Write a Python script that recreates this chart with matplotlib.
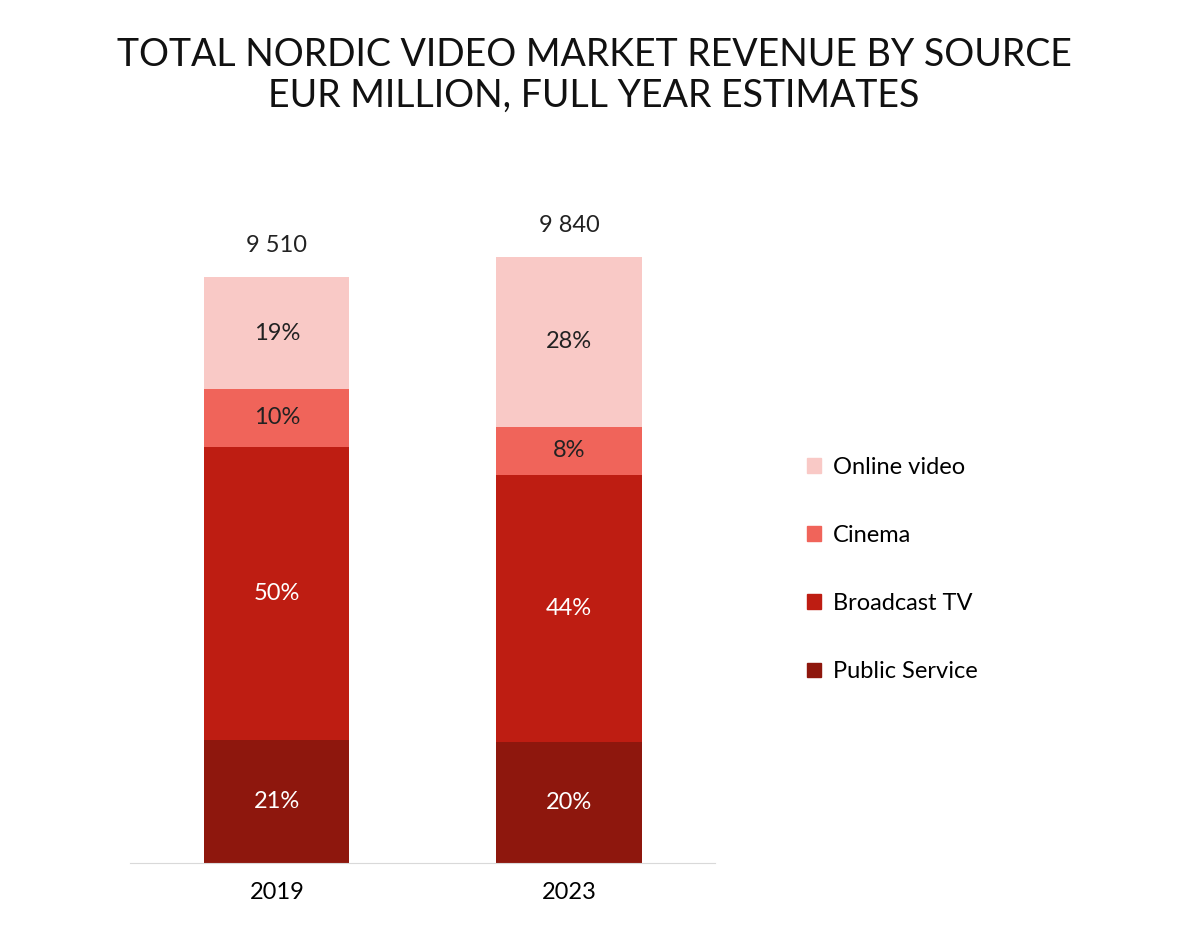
import matplotlib
matplotlib.use("Agg")
import matplotlib.pyplot as plt
from matplotlib.patches import Patch

years = ["2019", "2023"]
totals = [9510, 9840]
series = ["Public Service", "Broadcast TV", "Cinema", "Online video"]
pcts = {
    "Public Service": [21, 20],
    "Broadcast TV": [50, 44],
    "Cinema": [10, 8],
    "Online video": [19, 28],
}
colors = {"Public Service": "#8E170D", "Broadcast TV": "#BE1D12",
          "Cinema": "#F0645A", "Online video": "#F9C9C6"}
total_labels = ["9 510", "9 840"]

plt.rcParams["font.family"] = "Lato"
fig = plt.figure(figsize=(12, 9.26), dpi=100)
ax = fig.add_axes([0.1083, 0.068, 0.4875, 0.798])
x = [0, 1]
bottoms = [0, 0]
for s in series:
    vals = [p / 100 * t for p, t in zip(pcts[s], totals)]
    ax.bar(x, vals, bottom=bottoms, width=0.497, color=colors[s], label=s)
    for i in range(2):
        tc = "white" if s in ("Public Service", "Broadcast TV") else "#222222"
        ax.text(x[i], bottoms[i] + vals[i] / 2, f"{pcts[s][i]}%", ha="center",
                va="center", fontsize=17, color=tc)
    bottoms = [b + v for b, v in zip(bottoms, vals)]
for i in range(2):
    ax.text(x[i], bottoms[i] + 350, total_labels[i], ha="center", va="bottom",
            fontsize=17, color="#222222")
ax.set_xlim(-0.503, 1.5)
ax.set_ylim(0, 12000)
ax.set_xticks(x)
ax.set_xticklabels(years, fontsize=17)
ax.tick_params(axis="x", length=0, pad=14)
ax.set_yticks([])
for sp in ["top", "right", "left"]:
    ax.spines[sp].set_visible(False)
ax.spines["bottom"].set_color("#d9d9d9")

handles = [Patch(color=colors[s], label=s) for s in reversed(series)]
fig.legend(handles=handles, loc="center left", bbox_to_anchor=(0.655, 0.385),
           frameon=False, fontsize=17, handlelength=0.6, handleheight=0.6,
           labelspacing=2.0, handletextpad=0.5)

fig.text(0.495, 0.96, "TOTAL NORDIC VIDEO MARKET REVENUE BY SOURCE\nEUR MILLION, FULL YEAR ESTIMATES",
         ha="center", va="top", fontsize=27, linespacing=1.15, color="#111111")
fig.savefig("out.png", dpi=100, facecolor="white")
